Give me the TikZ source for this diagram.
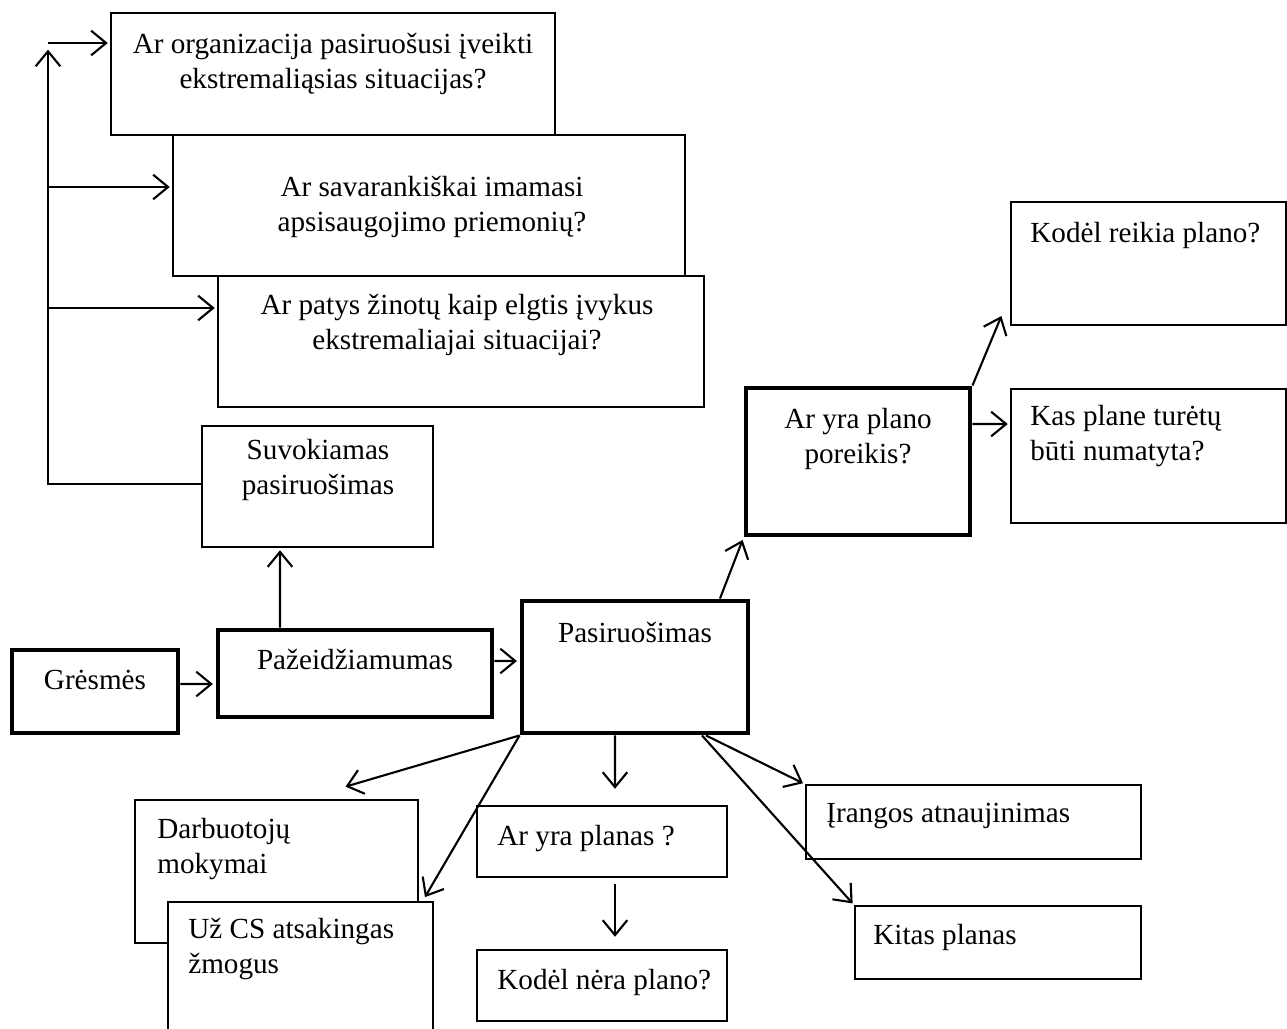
\documentclass[tikz,border=0pt]{standalone}
\usepackage{fontspec}
\setmainfont{Liberation Serif}
\usetikzlibrary{arrows.meta,fit}

\tikzset{
  every node/.style={font=\fontsize{16.6}{19.9}\selectfont},
  thinbox/.style={draw, line width=0.7pt, fill=white, inner sep=0pt},
  thickbox/.style={draw, line width=2.8pt, fill=white, inner sep=0pt},
  % multi-line texts are placed by the baseline of their last line
  ctext/.style={inner sep=0pt, anchor=base, align=center},
  ltext/.style={inner sep=0pt, anchor=base west, align=left},
  arr/.style={line width=1.2pt, -{Straight Barb[length=8.5pt,width=14pt]}, shorten >=1.5pt}
}

\begin{document}
\begin{tikzpicture}[x=0.02cm, y=-0.02cm]
\useasboundingbox (0,0) rectangle (1287,1028);

% question boxes on the upper left
\node[thinbox, fit={(111,13) (555,135)}] (q1) {};
\node[thinbox, fit={(173,135) (685,276)}] (q2) {};
\node[thinbox, fit={(218,276) (704,407)}] (q3) {};
\node[ctext] (q1txt) at (333,88) {Ar organizacija pasiruošusi įveikti\\ekstremaliąsias situacijas?};
\node[ctext] (q2txt) at (432,231) {Ar savarankiškai imamasi\\apsisaugojimo priemonių?};
\node[ctext] (q3txt) at (457,349) {Ar patys žinotų kaip elgtis įvykus\\ekstremaliajai situacijai?};

% perceived preparedness
\node[thinbox, fit={(202,426) (433,547)}] (sv) {};
\node[ctext] (svtxt) at (318,494) {Suvokiamas\\pasiruošimas};

% main chain
\node[thickbox, fit={(12,650) (178,733)}] (gr) {};
\node[ctext] (grtxt) at (95,689) {Grėsmės};
\node[thickbox, fit={(218,630) (492,717)}] (pz) {};
\node[ctext] (pztxt) at (355,669) {Pažeidžiamumas};
\node[thickbox, fit={(522,601) (748,733)}] (ps) {};
\node[ctext] (pstxt) at (635,642) {Pasiruošimas};

% plan need branch
\node[thickbox, fit={(746,388) (970,535)}] (por) {};
\node[ctext] (portxt) at (858,463) {Ar yra plano\\poreikis?};
\node[thinbox, fit={(1011,202) (1286,325)}] (kr) {};
\node[ltext] (krtxt) at (1030,242) {Kodėl reikia plano?};
\node[thinbox, fit={(1011,389) (1286,523)}] (kp) {};
\node[ltext] (kptxt) at (1030,460) {Kas plane turėtų\\būti numatyta?};

% lower branches
\node[thinbox, fit={(477,806) (727,877)}] (yp) {};
\node[ltext] (yptxt) at (497,845) {Ar yra planas ?};
\node[thinbox, fit={(477,950) (727,1021)}] (kn) {};
\node[ltext] (kntxt) at (497,989) {Kodėl nėra plano?};
\node[thinbox, fit={(806,785) (1141,859)}] (ir) {};
\node[ltext] (irtxt) at (826,822) {Įrangos atnaujinimas};
\node[thinbox, fit={(855,906) (1141,979)}] (kt) {};
\node[ltext] (kttxt) at (873,944) {Kitas planas};
\node[thinbox, fit={(135,800) (418,943)}] (dm) {};
\node[ltext] (dmtxt) at (157,873) {Darbuotojų\\mokymai};
\node[thinbox, fit={(168,902) (433,1045)}] (us) {};
\node[ltext] (ustxt) at (188,973) {Už CS atsakingas\\žmogus};

% feedback spine on the left
\coordinate (spinetop) at (48,47);
\coordinate (b1) at (48,43);
\coordinate (b2) at (48,187);
\coordinate (b3) at (48,308);
\draw[arr] ([yshift=0.05cm]sv.west) -| (spinetop);
\draw[arr] (b1) -- (b1 -| q1.west);
\draw[arr] (b2) -- (b2 -| q2.west);
\draw[arr] (b3) -- (b3 -| q3.west);

% main chain connectors
\draw[arr] ([yshift=0.15cm]gr.east) -- ([yshift=-0.21cm]pz.west);
\draw[arr] ([yshift=0.25cm]pz.east) -- ([yshift=0.12cm]ps.west);
\draw[arr] ([xshift=-1.5cm]pz.north) -- ([xshift=-0.75cm]sv.south);

% plan need connectors
\draw[arr] ([xshift=1.7cm]ps.north) -- (por.south west);
\draw[arr] (por.north east) -- ([xshift=-0.16cm, yshift=0.24cm]kr.south west);
\draw[arr] ([yshift=0.75cm]por.east) -- ([yshift=0.64cm]kp.west);

% lower connectors
\draw[arr] (ps.south west) -- ([xshift=1.33cm, yshift=0.24cm]dm.north);
\draw[arr] (ps.south west) -- ([xshift=-0.2cm, yshift=0.04cm]us.north east);
\draw[arr] ([xshift=-0.4cm]ps.south) -- ([xshift=0.26cm, yshift=0.28cm]yp.north);
\draw[arr] ([xshift=1.42cm]ps.south) -- (ir.north west);
\draw[arr] ([xshift=1.34cm]ps.south) -- (kt.north west);
\draw[arr] ([xshift=0.26cm, yshift=-0.12cm]yp.south) -- ([xshift=0.26cm, yshift=0.2cm]kn.north);
\end{tikzpicture}
\end{document}
